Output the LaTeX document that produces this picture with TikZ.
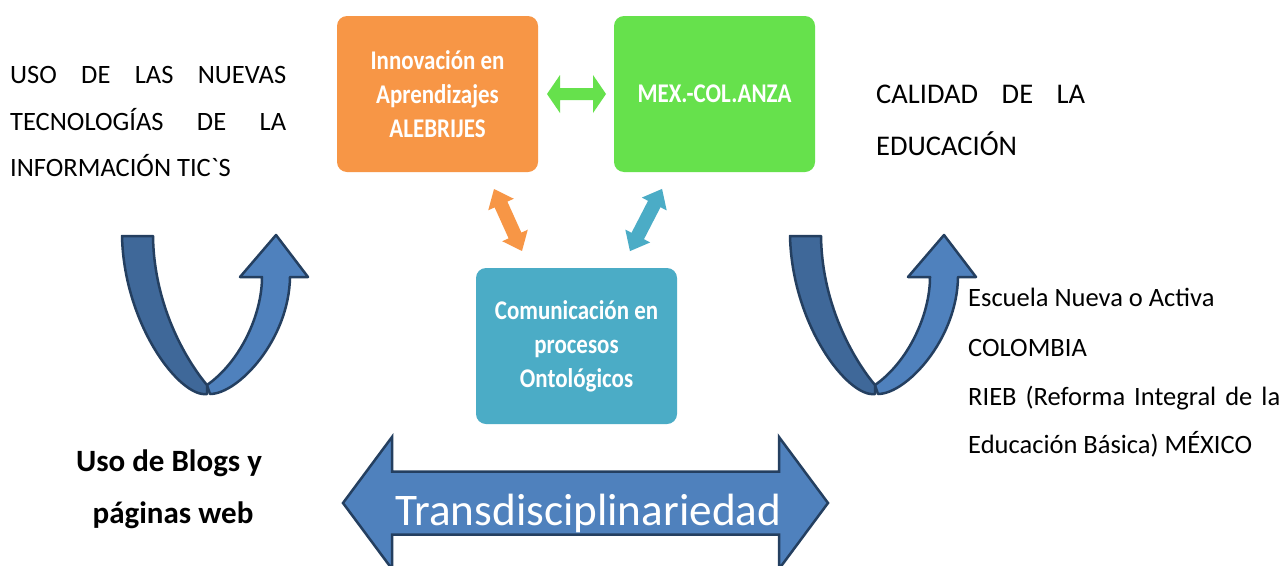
\documentclass[tikz,border=0pt]{standalone}
\usepackage{fontspec}
\setmainfont{Carlito}[Ligatures=TeXOff]
\newfontfamily\boxfont{Carlito}[FakeStretch=0.85]
\definecolor{orangeF}{HTML}{F79646}
\definecolor{greenF}{HTML}{66E14C}
\definecolor{tealF}{HTML}{4BACC6}
\definecolor{blueF}{HTML}{4F81BD}
\definecolor{blueD}{HTML}{3F6899}
\definecolor{navy}{HTML}{243F60}
\tikzset{
  box/.style={rounded corners=10, minimum width=201, minimum height=156, inner sep=0, text=white, align=center,
    font=\boxfont\bfseries\fontsize{27}{34}\selectfont},
  txt/.style={inner sep=0, anchor=base west, font=\fontsize{26.5}{30}\selectfont},
  txtc/.style={inner sep=0, anchor=base west, font=\fontsize{28.5}{32}\selectfont},
  btxt/.style={inner sep=0, anchor=base, font=\bfseries\fontsize{31}{34}\selectfont},
  pics/dblarr/.style n args={4}{code={%
    \path[pic actions] (-#1,0) -- (-#1+#4,-#3) -- (-#1+#4,-#2) -- (#1-#4,-#2) -- (#1-#4,-#3) -- (#1,0)
      -- (#1-#4,#3) -- (#1-#4,#2) -- (-#1+#4,#2) -- (-#1+#4,#3) -- cycle;}},
  pics/uarrow/.style={code={%
    \filldraw[fill=blueD, draw=navy, line width=2.5, line join=round]
      (122,236) .. controls (124,325) and (180,398) .. (207,394) -- (207,385)
      .. controls (190,365) and (154,310) .. (153,236) -- cycle;
    \filldraw[fill=blueF, draw=navy, line width=2.5, line join=round]
      (207,385) .. controls (240,362) and (262,315) .. (262,277) -- (240,277) -- (276,235)
      -- (308,277) -- (290,277) .. controls (289,340) and (238,394) .. (210,394) -- cycle;}}
}
\begin{document}
\begin{tikzpicture}[x=1pt,y=-1pt]
\useasboundingbox[fill=white] (0,0) rectangle (1284,565);

% U-turn arrows
\pic at (0,0) {uarrow};
\pic at (668,0) {uarrow};

% boxes
\node[box, fill=orangeF] (inno) at (437.5,94) {Innovación en\\Aprendizajes\\ALEBRIJES};
\node[box, fill=greenF] (mex) at (714.5,94) {MEX.-COL.ANZA};
\node[box, fill=tealF] (com) at (576.5,346) {Comunicación en\\procesos\\Ontológicos};

% small double arrows
\pic[fill=greenF] at (576.5,94) {dblarr={29.5}{6}{19}{13}};
\pic[fill=orangeF, rotate=-65.7] at (508,220) {dblarr={34}{7}{14}{17}};
\pic[fill=tealF, rotate=-117.3] at (646,220) {dblarr={35}{7}{14}{17}};

% big double arrow
\pic[fill=blueF, draw=navy, line width=2.5, line join=miter] at (585.5,503) {dblarr={242.5}{31.5}{66}{49}};
\node[inner sep=0, anchor=base west, text=white, font=\fontsize{45.2}{50}\selectfont] (trans) at (395,525) {Transdisciplinariedad};

% left texts
\node[txt] (l1) at (10,83.3) {\makebox[276pt][s]{USO DE LAS NUEVAS}};
\node[txt] (l2) at (10,130) {\makebox[276pt][s]{TECNOLOGÍAS DE LA}};
\node[txt] (l3) at (10,176.7) {INFORMACIÓN TIC`S};

% right top texts
\node[txtc] (r1) at (876,103.3) {\makebox[209pt][s]{CALIDAD DE LA}};
\node[txtc] (r2) at (876,155) {EDUCACIÓN};

% right texts
\node[txt] (e1) at (968,306.7) {Escuela Nueva o Activa};
\node[txt] (e2) at (968,356) {COLOMBIA};
\node[txt] (e3) at (968,405) {\makebox[312pt][s]{RIEB (Reforma Integral de la}};
\node[txt] (e4) at (968,453.3) {Educación Básica) MÉXICO};

% bottom left bold
\node[btxt] (b1) at (169,471.7) {Uso de Blogs y};
\node[btxt] (b2) at (173,523.3) {páginas web};
\end{tikzpicture}
\end{document}
